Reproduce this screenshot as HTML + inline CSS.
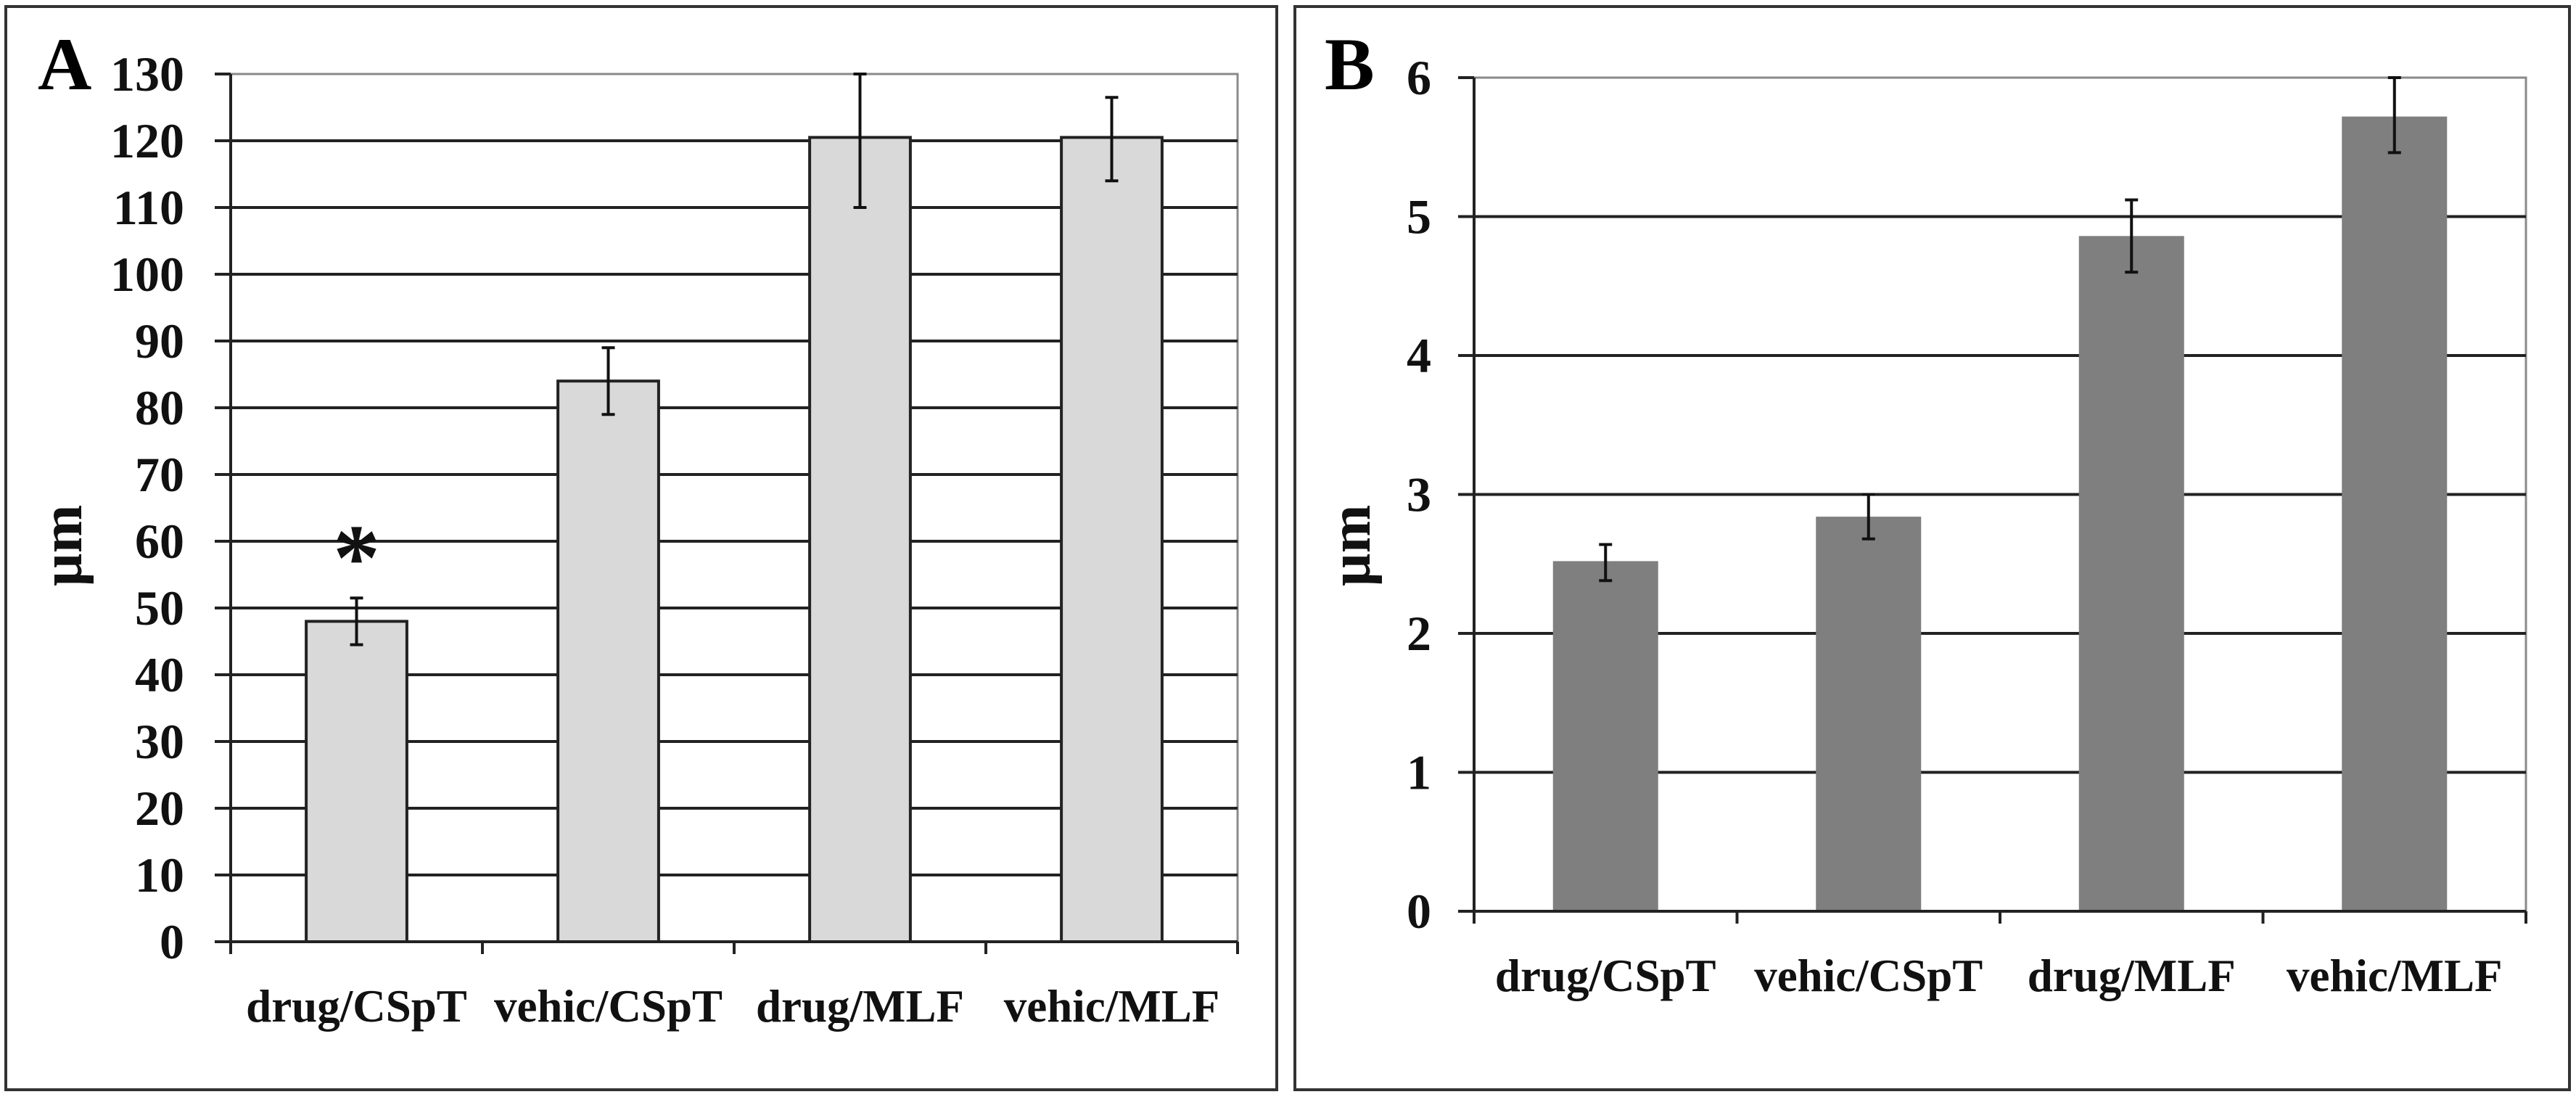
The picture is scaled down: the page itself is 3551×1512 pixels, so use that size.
<!DOCTYPE html>
<html><head><meta charset="utf-8"><style>
html,body{margin:0;padding:0;background:#fff;}
svg{display:block;font-family:"Liberation Serif","Times New Roman",serif;font-weight:bold;}
</style></head><body>
<svg id="fig" width="3551" height="1512" viewBox="0 0 3551 1512" xmlns="http://www.w3.org/2000/svg" font-family="Liberation Serif, serif">
<rect x="8" y="9" width="1752" height="1493" fill="none" stroke="#333" stroke-width="4"/>
<rect x="1785" y="9" width="1757" height="1493" fill="none" stroke="#333" stroke-width="4"/>
<text x="52" y="123" font-size="103">A</text>
<text x="1826" y="123" font-size="103">B</text>
<g id="chartA"></g>
<g id="chartB"></g>
</svg>
<script>
const categories = ["drug/CSpT","vehic/CSpT","drug/MLF","vehic/MLF"];
const valuesA = [48, 84, 120.5, 120.5];
const errLowA = [44.5, 79, 110, 114];
const errHighA = [51.5, 89, 130, 126.5];
const ticksA = [0,10,20,30,40,50,60,70,80,90,100,110,120,130];
const valuesB = [2.52, 2.84, 4.86, 5.72];
const errLowB = [2.38, 2.68, 4.6, 5.46];
const errHighB = [2.64, 3.0, 5.12, 6.0];
const ticksB = [0,1,2,3,4,5,6];

const NS = "http://www.w3.org/2000/svg";
function mk(parent, tag, attrs, txt){
  const e = document.createElementNS(NS, tag);
  for (const k in attrs) e.setAttribute(k, attrs[k]);
  if (txt !== undefined) e.textContent = txt;
  parent.appendChild(e);
  return e;
}
function drawChart(g, cfg){
  const {x0,x1,y0,y1,max,ticks,values,lo,hi,fill,outline,tickRight,labelY,ylabX,prefix} = cfg;
  const ys = v => y0 - (v/max)*(y0-y1);
  const cw = (x1-x0)/categories.length;
  const bw = cw*0.4;
  const fr = mk(g,'path',{d:`M${x0} ${y1} H${x1} V${y0}`,fill:'none',stroke:'#8a8a8a','stroke-width':3});
  
  
  ticks.forEach((t,i)=>{
    const y = ys(t);
    if (t>0 && t<max){
      const gl = mk(g,'line',{x1:x0,x2:x1,y1:y,y2:y,stroke:'#222','stroke-width':4});
      
      
    }
    const tk = mk(g,'line',{x1:x0-22,x2:x0,y1:y,y2:y,stroke:'#222','stroke-width':4});
    
    
    const tl = mk(g,'text',{x:tickRight,y:y+23,'text-anchor':'end','font-size':68,fill:'#111'},String(t));
    
    
  });
  categories.forEach((c,i)=>{
    const cx = x0 + cw*(i+0.5);
    const top = ys(values[i]);
    const b = mk(g,'rect',{x:cx-bw/2,y:top,width:bw,height:y0-top,fill:fill});
    if (outline){ b.setAttribute('stroke','#222'); b.setAttribute('stroke-width',4); }
    
    
    const eh = ys(hi[i]), el = ys(lo[i]);
    const eb = mk(g,'path',{d:`M${cx} ${eh} V${el} M${cx-9} ${eh} H${cx+9} M${cx-9} ${el} H${cx+9}`,stroke:'#111','stroke-width':4,fill:'none'});
    
    
    const cl = mk(g,'text',{x:cx,y:labelY,'text-anchor':'middle','font-size':63,fill:'#111'},c);
    
    
  });
  for (let i=0;i<=categories.length;i++){
    const x = x0 + cw*i;
    const t = mk(g,'line',{x1:x,x2:x,y1:y0,y2:y0+17,stroke:'#222','stroke-width':4});
    
    
  }
  const ya = mk(g,'line',{x1:x0,x2:x0,y1:y1,y2:y0,stroke:'#222','stroke-width':4});
  
  
  const xa = mk(g,'line',{x1:x0,x2:x1,y1:y0,y2:y0,stroke:'#222','stroke-width':4});
  
  
  const yt = mk(g,'text',{x:ylabX,y:752,'text-anchor':'middle','font-size':80,fill:'#111',transform:`rotate(-90 ${ylabX} 752)`},'µm');
  
  
  return {ys,cw};
}
const A = drawChart(document.getElementById('chartA'),{x0:318,x1:1706,y0:1298,y1:102,max:130,ticks:ticksA,values:valuesA,lo:errLowA,hi:errHighA,fill:'#d9d9d9',outline:true,tickRight:254,labelY:1408,ylabX:112,prefix:'a'});
drawChart(document.getElementById('chartB'),{x0:2032,x1:3482,y0:1256,y1:107,max:6,ticks:ticksB,values:valuesB,lo:errLowB,hi:errHighB,fill:'#7f7f7f',outline:false,tickRight:1973,labelY:1366,ylabX:1888,prefix:'b'});
const star = mk(document.getElementById('chartA'),'text',{x:318+A.cw*0.5,y:A.ys(errHighA[0])-12,'text-anchor':'middle','font-size':130,fill:'#111'},'*');


</script>
</body></html>
